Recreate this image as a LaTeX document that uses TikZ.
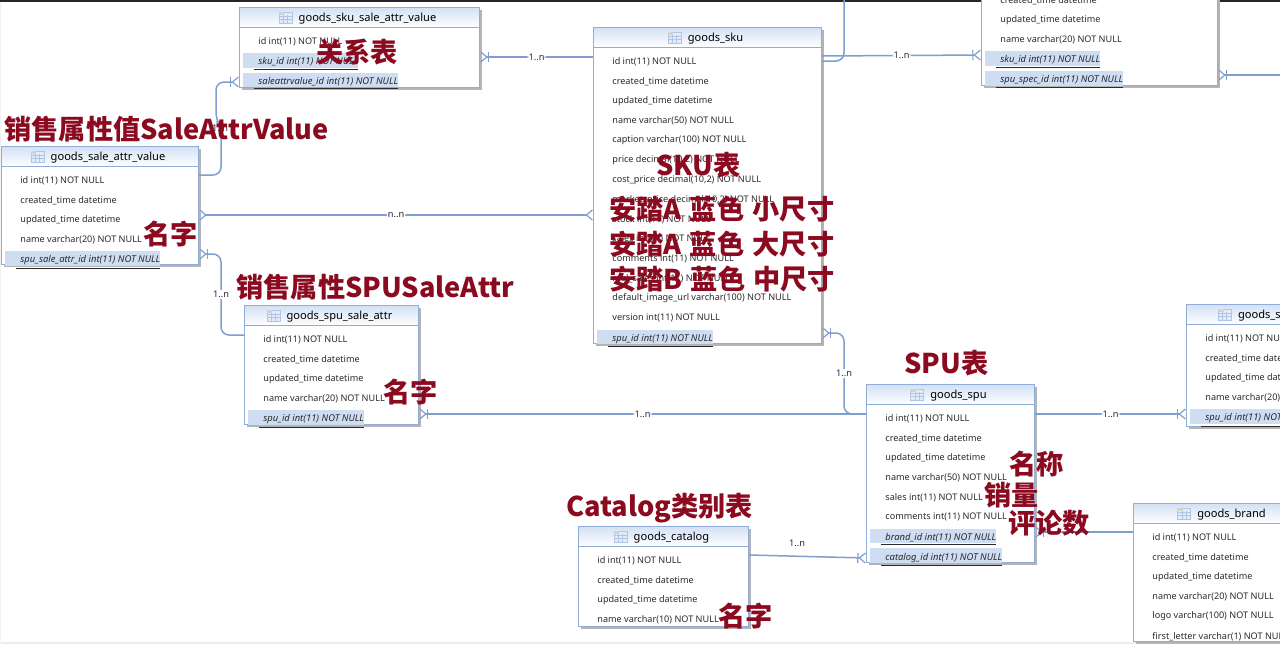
\documentclass[tikz,border=0pt]{standalone}
\usepackage{fontspec}
\usepackage{tikz}
\usetikzlibrary{arrows.meta}
\usetikzlibrary{calc}
\setmainfont{Noto Sans}
\newfontfamily\cjk{Noto Sans CJK SC}

\definecolor{erline}{HTML}{7E9FCF}
\definecolor{erborder}{HTML}{8FADD8}
\definecolor{erhead}{HTML}{D3E1F5}
\definecolor{erkey}{HTML}{CFDDF3}
\definecolor{ershadow}{HTML}{B4B4B4}
\definecolor{ertext}{HTML}{2A2A2A}
\definecolor{bigred}{HTML}{8B0A20}

\tikzset{
  x=0.5pt, y=-0.5pt,
  dbbox/.style={draw=erborder, line width=0.6pt, fill=white, inner sep=0pt, anchor=north west},
  dbhead/.style={draw=erborder, line width=0.5pt, top color=erhead, bottom color=white, inner sep=0pt, anchor=north west},
  dbtitle/.style={font=\bfseries\fontsize{5.55}{6}\selectfont, text=black, inner sep=0pt},
  dbrow/.style={font=\fontsize{4.55}{6}\selectfont, text=ertext, inner sep=0pt, anchor=west},
  dbkey/.style={font=\itshape\fontsize{4.7}{6}\selectfont, text=ertext, fill=erkey, inner sep=0pt,
    text height=5.9pt, text depth=1.5pt, anchor=west},
  conn/.style={draw=erline, line width=0.75pt, rounded corners=4pt},
  many/.tip={Straight Barb[reversed, length=3pt, width=5pt, line width=0.6pt]},
  onemany/.tip={Bar[width=5pt, line width=0.6pt, sep=0pt] Straight Barb[reversed, length=3pt, width=5pt, line width=0.6pt]},
  card/.style={font=\fontsize{4.6}{6}\selectfont, text=ertext, fill=white, inner sep=0.5pt},
  bigtext/.style={font=\cjk\bfseries\fontsize{13.6}{14}\selectfont, text=bigred, inner sep=0pt, anchor=west},
  dbicon/.pic={
    \draw[draw=erborder!70, fill=erkey!60, line width=0.25pt] (-6.5,-5) rectangle (6.5,6);
    \fill[gray!35] (-6.5,-6) rectangle (-1,-3);
    \foreach \k in {-2,2} \draw[draw=erborder!70, line width=0.2pt] (\k,-3) -- (\k,6);
    \foreach \k in {-1,2} \draw[draw=erborder!70, line width=0.2pt] (-6.5,\k) -- (6.5,\k);
  }
}

% table box, arguments: name, left, top, width, height, title
\newcommand{\dbtable}[6]{
  \fill[ershadow] (#2+3,#3+3) rectangle (#2+#4+3,#3+#5+3);
  \node[dbbox, minimum width=#4*0.5pt, minimum height=#5*0.5pt] (#1) at (#2,#3) {};
  \node[dbhead, minimum width=#4*0.5pt, minimum height=10pt] (#1-head) at (#1.north west) {};
  \node[dbtitle] (#1-title) at ($(#1-head.center)+(8,1)$) {#6};
  \pic at ($(#1-title.west)+(-13,-1)$) {dbicon};
}
% columns: table name, offset of first row, list
\newcommand{\dbrows}[3]{
  \foreach \txt [count=\i from #2] in {#3}
    \node[dbrow] (#1-r\i) at ($(#1.north west)+(19,34.5+19.75*\i)$) {\txt};
}
\newcommand{\dbkeys}[3]{
  \foreach \txt [count=\i from #2] in {#3}
    \node[dbkey] (#1-r\i) at ($(#1.north west)+(4,33.5+19.75*\i)$) {\hspace{5.5pt}\underline{\hspace{2pt}\txt}};
}

\begin{document}
\begin{tikzpicture}

  \useasboundingbox (0,0) rectangle (1280,644);
  \fill[white] (0,0) rectangle (1280,644);

  % Window edges
  \fill[gray!15] (0,642) rectangle (1280,644);
  \fill[gray!10] (0,0) rectangle (1,644);
  \fill[black!85] (0,0) rectangle (1280,2);

  % Tables
  \dbtable{skuattr}{239}{7}{240}{80}{goods\_sku\_sale\_attr\_value}
  \dbrows{skuattr}{0}{id int(11) NOT NULL}
  \dbkeys{skuattr}{1}{sku\_id int(11) NOT NULL, saleattrvalue\_id int(11) NOT NULL}

  \dbtable{attrvalue}{1}{146}{197}{118}{goods\_sale\_attr\_value}
  \dbrows{attrvalue}{0}{id int(11) NOT NULL, created\_time datetime, updated\_time datetime, name varchar(20) NOT NULL}
  \dbkeys{attrvalue}{4}{spu\_sale\_attr\_id int(11) NOT NULL}

  \dbtable{spuattr}{244}{305}{174}{119}{goods\_spu\_sale\_attr}
  \dbrows{spuattr}{0}{id int(11) NOT NULL, created\_time datetime, updated\_time datetime, name varchar(20) NOT NULL}
  \dbkeys{spuattr}{4}{spu\_id int(11) NOT NULL}

  \dbtable{sku}{593}{27}{228}{316}{goods\_sku}
  \dbrows{sku}{0}{id int(11) NOT NULL, created\_time datetime, updated\_time datetime, name varchar(50) NOT NULL,
    caption varchar(100) NOT NULL, {price decimal(10,2) NOT NULL}, {cost\_price decimal(10,2) NOT NULL},
    {market\_price decimal(10,2) NOT NULL}, stock int(11) NOT NULL, sales int(11) NOT NULL,
    comments int(11) NOT NULL, real\_sales int(11) NOT NULL, default\_image\_url varchar(100) NOT NULL, version int(11) NOT NULL}
  \dbkeys{sku}{14}{spu\_id int(11) NOT NULL}

  \dbtable{skuspec}{981}{-54}{236}{139}{}
  \dbrows{skuspec}{1}{created\_time datetime, updated\_time datetime, name varchar(20) NOT NULL}
  \dbkeys{skuspec}{4}{sku\_id int(11) NOT NULL, spu\_spec\_id int(11) NOT NULL}

  \dbtable{spu}{866}{384}{168}{178}{goods\_spu}
  \dbrows{spu}{0}{id int(11) NOT NULL, created\_time datetime, updated\_time datetime, name varchar(50) NOT NULL,
    sales int(11) NOT NULL, comments int(11) NOT NULL}
  \dbkeys{spu}{6}{brand\_id int(11) NOT NULL, catalog\_id int(11) NOT NULL}

  \dbtable{spuspec}{1186}{304}{172}{122}{goods\_spu\_spec}
  \dbrows{spuspec}{0}{id int(11) NOT NULL, created\_time datetime, updated\_time datetime, name varchar(20) NOT NULL}
  \dbkeys{spuspec}{4}{spu\_id int(11) NOT NULL}

  \dbtable{brand}{1133}{503}{180}{138}{goods\_brand}
  \dbrows{brand}{0}{id int(11) NOT NULL, created\_time datetime, updated\_time datetime, name varchar(20) NOT NULL,
    logo varchar(100) NOT NULL, first\_letter varchar(1) NOT NULL}

  \dbtable{catalog}{578}{526}{170}{100}{goods\_catalog}
  \dbrows{catalog}{0}{id int(11) NOT NULL, created\_time datetime, updated\_time datetime, name varchar(10) NOT NULL}

  % Free ends of the connectors
  \coordinate (top) at (844,0);
  \coordinate (edge) at (1280,75);

  % Connectors
  \draw[conn, -{onemany}] (sku.west |- 0,57) -- node[card] {1..n} (skuattr.east |- 0,57);
  \draw[conn, -{onemany}] (attrvalue.east |- 0,175) -- (221,175) -- (221,128) -- (216,120) -- (216,82) -- (skuattr.west |- 0,82);
  \draw[conn, {many}-{many}] (attrvalue.east |- 0,215) -- node[card] {n..n} (sku.west |- 0,215);
  \draw[conn, -{onemany}] (spuattr.west |- 0,335) -- (221,335) -- node[card] {1..n} (221,254) -- (attrvalue.east |- 0,254);
  \draw[conn, -{onemany}] (spu.west |- 0,414) -- node[card] {1..n} (spuattr.east |- 0,414);
  \draw[conn, -{onemany}] (spu.west |- 0,414) -- (844,414) -- node[card] {1..n} (844,333) -- (sku.east |- 0,333);
  \draw[conn, -{onemany}] (spu.east |- 0,414) -- node[card] {1..n} (spuspec.west |- 0,414);
  \draw[conn, -{onemany}] (brand.west |- 0,532) -- (spu.east |- 0,532);
  \draw[conn] (sku.east |- 0,61) -- (844,61) -- (top);
  \draw[conn, -{onemany}] (sku.east |- 0,56) -- node[card] {1..n} (skuspec.west |- 0,55);
  \draw[conn, {onemany}-] (skuspec.east |- 0,75) -- (edge);
  \draw[conn, -{onemany}] (catalog.east |- 0,555) -- (spu.west |- 0,558);
  \node[card, fill=none] (catalog-card) at (797,543) {1..n};
  \node[card] (attrvalue-card) at (220,128) {1..n};

  % Notes
  \node[bigtext] (note-value) at (4,129) {销售属性值SaleAttrValue};
  \node[bigtext] (note-rel) at (316,52) {关系表};
  \node[bigtext] (note-name1) at (143,234) {名字};
  \node[bigtext] (note-attr) at (236,287) {销售属性SPUSaleAttr};
  \node[bigtext] (note-name2) at (383,392) {名字};
  \node[bigtext] (note-skut) at (656,165) {SKU表};
  \node[bigtext] (note-a1) at (609,209) {安踏A\hspace{1pt} 蓝色\hspace{1pt} 小尺寸};
  \node[bigtext] (note-a2) at (609,244) {安踏A\hspace{1pt} 蓝色\hspace{1pt} 大尺寸};
  \node[bigtext] (note-a3) at (609,279) {安踏B\hspace{1pt} 蓝色\hspace{1pt} 中尺寸};
  \node[bigtext] (note-sput) at (904,363) {SPU表};
  \node[bigtext] (note-sname) at (1009,464) {名称};
  \node[bigtext] (note-sales) at (984,495) {销量};
  \node[bigtext] (note-comm) at (1008,523) {评论数};
  \node[bigtext] (note-cat) at (566,508) {Catalog类别表};
  \node[bigtext] (note-name3) at (718,616) {名字};

\end{tikzpicture}
\end{document}
